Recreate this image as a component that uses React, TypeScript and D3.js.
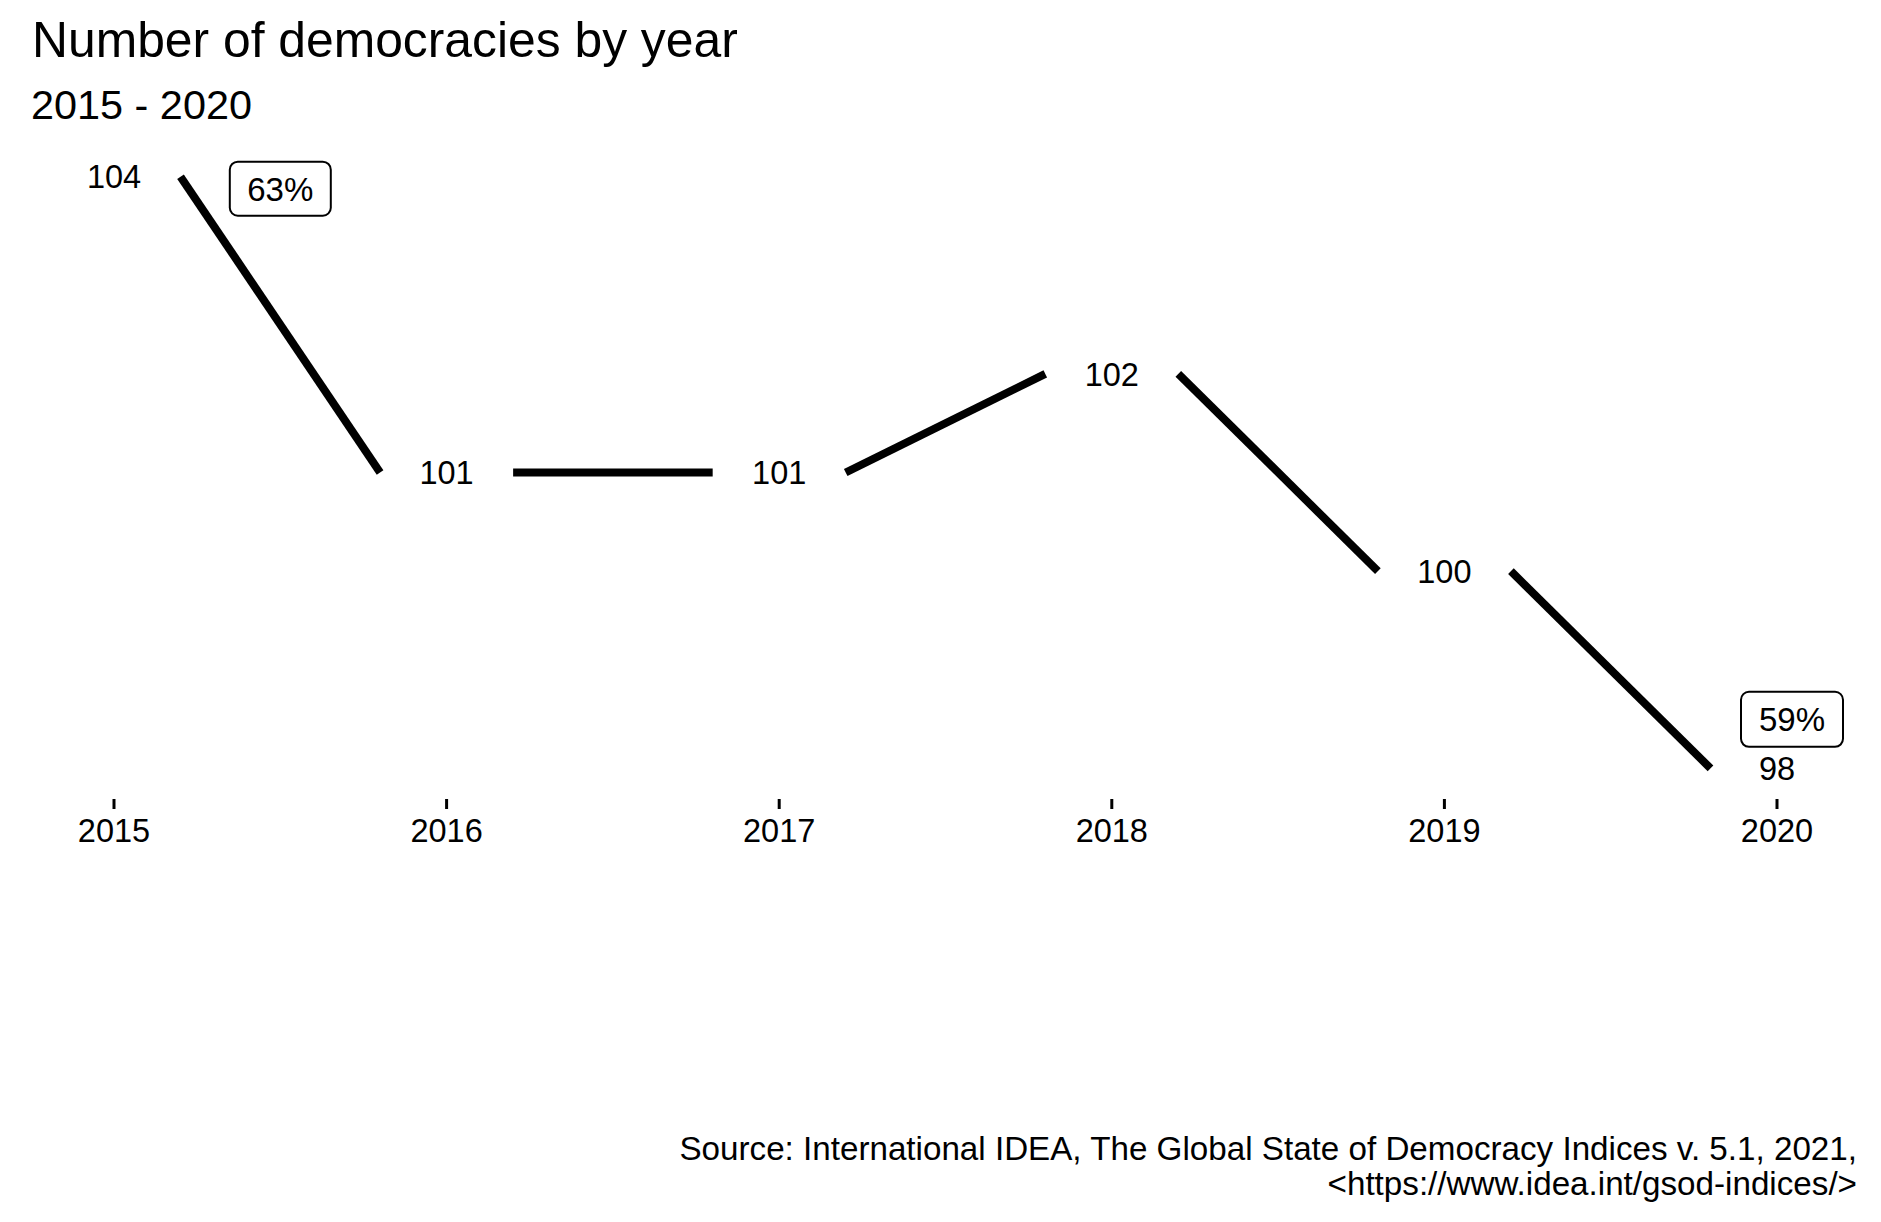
import React from "react";
import * as d3 from "d3";

const years = [2015, 2016, 2017, 2018, 2019, 2020];
const democracies = [104, 101, 101, 102, 100, 98];
const tickLabels = ["2015", "2016", "2017", "2018", "2019", "2020"];
const shareLabels = [
  { year: 2015, value: 104, text: "63%" },
  { year: 2020, value: 98, text: "59%" },
];
const title = "Number of democracies by year";
const subtitle = "2015 - 2020";
const captionLines = [
  "Source: International IDEA, The Global State of Democracy Indices v. 5.1, 2021,",
  "<https://www.idea.int/gsod-indices/>",
];

const W = 1881;
const H = 1222;
const FONT = "'Liberation Sans', Arial, Helvetica, sans-serif";

export default function App() {
  const x = d3.scaleLinear().domain([2014.75, 2020.25]).range([30.85, 1860.15]);
  const y = d3.scaleLinear().domain([97.7, 104.3]).range([797.9, 147.1]);
  const gap = 0.2;

  const segs = years.slice(0, -1).map((yr, i) => ({
    x1: x(yr + gap),
    y1: y(democracies[i]),
    x2: x(years[i + 1] - gap),
    y2: y(democracies[i + 1]),
  }));

  const boxOffsets = [
    { dx: x(2015.5) - x(2015), dy: 12, w: 101, h: 54 },
    { dx: 15, dy: -49, w: 102, h: 55 },
  ];

  const axisY = 799;

  return (
    <svg
      width={W}
      height={H}
      style={{ position: "absolute", left: 0, top: 0, display: "block", background: "#fff" }}
      fontFamily={FONT}
    >
      <rect width={W} height={H} fill="#fff" />
      <text x={32} y={57} fontSize={49.8} fill="#000">{title}</text>
      <text x={31} y={118.5} fontSize={41.4} fill="#000">{subtitle}</text>

      {segs.map((s, i) => (
        <line key={i} x1={s.x1} y1={s.y1} x2={s.x2} y2={s.y2} stroke="#000" strokeWidth={8} strokeLinecap="butt" />
      ))}

      {years.map((yr, i) => (
        <text key={"v" + i} x={x(yr)} y={y(democracies[i])} dy="0.36em" textAnchor="middle" fontSize={32.5} fill="#000">
          {democracies[i]}
        </text>
      ))}

      {shareLabels.map((l, i) => {
        const o = boxOffsets[i];
        const cx = x(l.year) + o.dx;
        const cy = y(l.value) + o.dy;
        return (
          <g key={"b" + i}>
            <rect x={cx - o.w / 2} y={cy - o.h / 2} width={o.w} height={o.h} rx={8} ry={8} fill="#fff" stroke="#000" strokeWidth={2} />
            <text x={cx} y={cy} dy="0.36em" textAnchor="middle" fontSize={33} fill="#000">{l.text}</text>
          </g>
        );
      })}

      {years.map((yr, i) => (
        <g key={"t" + i}>
          <line x1={x(yr)} x2={x(yr)} y1={axisY} y2={axisY + 10} stroke="#000" strokeWidth={3} />
          <text x={x(yr)} y={842} textAnchor="middle" fontSize={32.5} fill="#000">{tickLabels[i]}</text>
        </g>
      ))}

      {captionLines.map((c, i) => (
        <text key={"c" + i} x={1857} y={1159.5 + i * 35} textAnchor="end" fontSize={33.2} fill="#000">{c}</text>
      ))}
    </svg>
  );
}
